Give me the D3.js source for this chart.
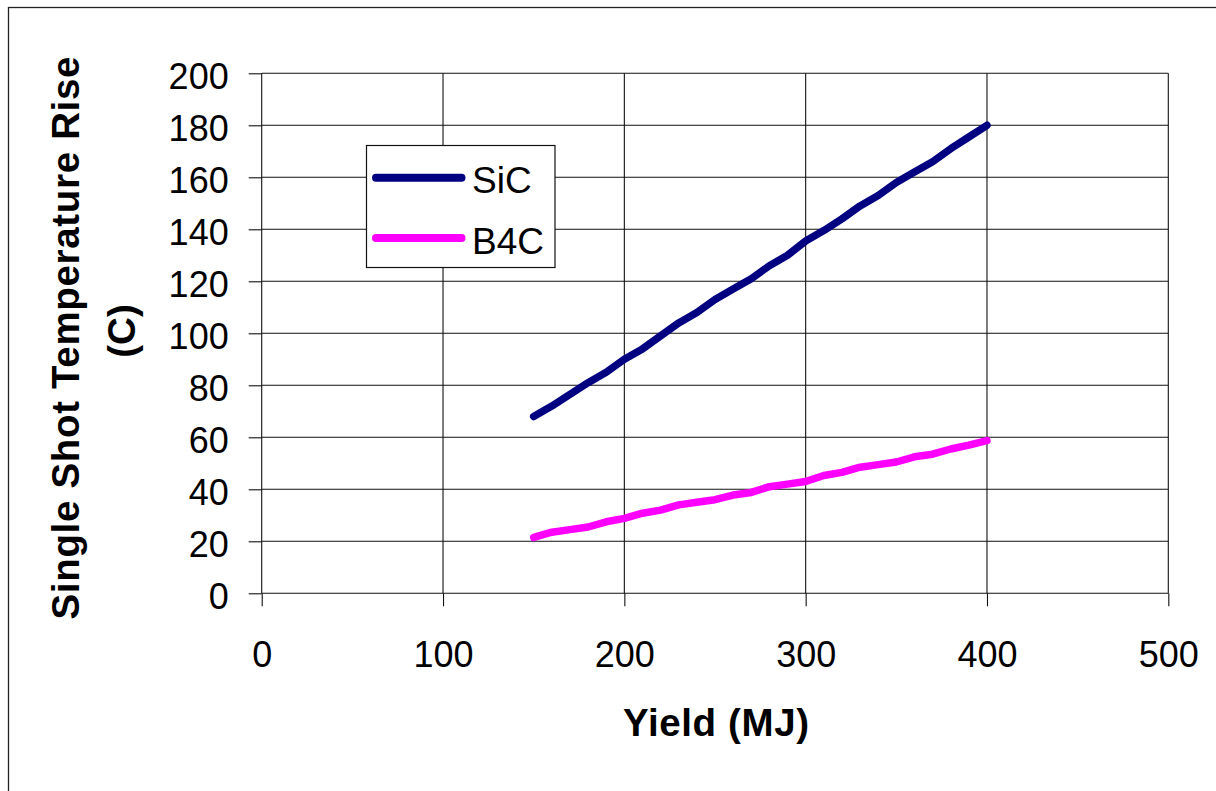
<!DOCTYPE html>
<html>
<head>
<meta charset="utf-8">
<script src="https://cdn.jsdelivr.net/npm/d3@7"></script>
<style>
  html, body { margin: 0; padding: 0; background: #fff; }
  svg { display: block; font-family: "Liberation Sans", Arial, sans-serif; }
</style>
</head>
<body>
<svg id="chart" width="1216" height="791"></svg>
<script>
// ---- data ----
const yieldMJ = [150,160,170,180,190,200,210,220,230,240,250,260,270,280,290,300,310,320,330,340,350,360,370,380,390,400];
const sicValues = [68,72,76.5,81,85,90,94,99,104,108,113,117,121,126,130,135.5,139.5,144,149,153,158,162,166,171,175.5,180];
const b4cValues = [21.5,23.5,24.5,25.5,27.5,28.8,30.8,32,34,35,36,37.8,38.8,41,42,43,45.3,46.5,48.5,49.5,50.5,52.5,53.5,55.5,57,58.7];
const seriesNames = ["SiC", "B4C"];
const xTicks = [0,100,200,300,400,500];
const yTicks = [0,20,40,60,80,100,120,140,160,180,200];
const xTitle = "Yield (MJ)";
const yTitleLines = ["Single Shot Temperature Rise", "(C)"];

// ---- layout ----
const svg = d3.select("#chart");
const L = 261.7, R = 1168.3, T = 73.3, B = 593.3;
const x = d3.scaleLinear().domain([0,500]).range([L,R]);
const y = d3.scaleLinear().domain([0,200]).range([B,T]);
const colors = {"SiC": "#000080", "B4C": "#FF00FF"};

// outer frame (only left and top edges visible)
svg.append("rect").attr("x",8.5).attr("y",7.5).attr("width",1300).attr("height",900)
  .attr("fill","none").attr("stroke","#222").attr("stroke-width",1.3);

// gridlines
const grid = svg.append("g").attr("stroke","#111").attr("stroke-width",1.1);
grid.selectAll("line.h").data(yTicks).join("line").attr("class","h")
  .attr("x1",L).attr("x2",R).attr("y1",d=>y(d)).attr("y2",d=>y(d));
grid.selectAll("line.v").data(xTicks).join("line").attr("class","v")
  .attr("x1",d=>x(d)).attr("x2",d=>x(d)).attr("y1",T).attr("y2",B);

// axes
const yAxis = svg.append("g").attr("transform",`translate(${L},0)`)
  .call(d3.axisLeft(y).tickValues(yTicks).tickSize(13).tickPadding(20).tickSizeOuter(0));
yAxis.select(".domain").remove();
yAxis.selectAll(".tick line").attr("stroke","#111").attr("stroke-width",1.1);
yAxis.selectAll(".tick text").attr("font-size",36).attr("fill","#000")
  .attr("font-family","Liberation Sans, Arial, sans-serif").attr("dy","0.42em");

const xAxis = svg.append("g").attr("transform",`translate(0,${B})`)
  .call(d3.axisBottom(x).tickValues(xTicks).tickSize(13).tickPadding(35).tickSizeOuter(0));
xAxis.select(".domain").remove();
xAxis.selectAll(".tick line").attr("stroke","#111").attr("stroke-width",1.1);
xAxis.selectAll(".tick text").attr("font-size",36).attr("fill","#000")
  .attr("font-family","Liberation Sans, Arial, sans-serif").attr("dy","0.71em");

// series
const line = d3.line().x(d=>x(d[0])).y(d=>y(d[1]));
const series = [
  {name: seriesNames[0], pts: d3.zip(yieldMJ, sicValues)},
  {name: seriesNames[1], pts: d3.zip(yieldMJ, b4cValues)}
];
svg.selectAll("path.series").data(series).join("path").attr("class","series")
  .attr("d",d=>line(d.pts)).attr("fill","none").attr("stroke",d=>colors[d.name])
  .attr("stroke-width",7.5).attr("stroke-linecap","round").attr("stroke-linejoin","round");

// axis titles
svg.append("text").attr("x",716).attr("y",736).attr("text-anchor","middle")
  .attr("font-size",38.5).attr("font-weight","bold")
  .attr("textLength",186).attr("lengthAdjust","spacing").text(xTitle);

const yt = svg.append("g");
yt.append("text").attr("transform","translate(79,338) rotate(-90)").attr("text-anchor","middle")
  .attr("font-size",38.5).attr("font-weight","bold")
  .attr("textLength",563).attr("lengthAdjust","spacing").text(yTitleLines[0]);
yt.append("text").attr("transform","translate(135,331) rotate(-90)").attr("text-anchor","middle")
  .attr("font-size",38.5).attr("font-weight","bold").text(yTitleLines[1]);

// legend
const lg = svg.append("g");
lg.append("rect").attr("x",366.5).attr("y",145.5).attr("width",188.5).attr("height",122)
  .attr("fill","#fff").attr("stroke","#111").attr("stroke-width",1.2);
const lgY = [177.7, 238];
const lgBase = [192.7, 254];
seriesNames.forEach((n,i)=>{
  lg.append("line").attr("x1",376).attr("x2",461.5).attr("y1",lgY[i]).attr("y2",lgY[i])
    .attr("stroke",colors[n]).attr("stroke-width",8).attr("stroke-linecap","round");
  lg.append("text").attr("x",472).attr("y",lgBase[i]).attr("font-size",37).attr("fill","#000").text(n);
});
</script>
</body>
</html>
